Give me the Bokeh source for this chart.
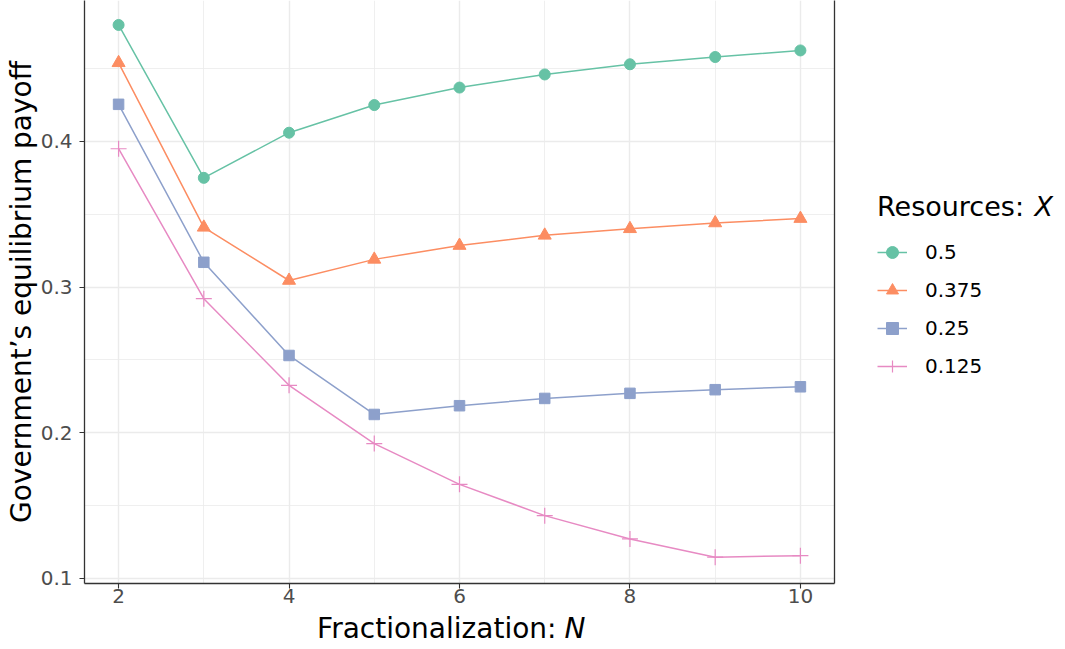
from math import pi
from bokeh.plotting import figure
from bokeh.layouts import row, column
from bokeh.models import (Range1d, FixedTicker, LinearAxis, Legend, LegendItem, Label)
from bokeh.embed import file_html
from bokeh.resources import INLINE

# ---- data ----
N = [2, 3, 4, 5, 6, 7, 8, 9, 10]
series_names = ["0.5", "0.375", "0.25", "0.125"]
pay_05 = [0.480, 0.375, 0.406, 0.425, 0.437, 0.446, 0.453, 0.458, 0.4625]
pay_0375 = [0.454, 0.341, 0.3045, 0.319, 0.3285, 0.3355, 0.340, 0.344, 0.347]
pay_025 = [0.4255, 0.317, 0.253, 0.2125, 0.2185, 0.2235, 0.227, 0.2295, 0.2315]
pay_0125 = [0.395, 0.292, 0.2325, 0.1925, 0.1645, 0.143, 0.127, 0.1145, 0.1155]
x_ticks = [2, 4, 6, 8, 10]
x_minor = [3, 5, 7, 9]
y_ticks = [0.1, 0.2, 0.3, 0.4]
y_minor = [0.15, 0.25, 0.35, 0.45]

colors = ["#66C2A5", "#FC8D62", "#8DA0CB", "#E78AC3"]
markers = ["circle", "triangle", "square", "cross"]
sizes = [11, 13, 10.5, 16]
FONT = "DejaVu Sans"
AXIS_TITLE_SIZE = "28px"
LEGEND_TITLE_SIZE = "27px"
TEXT_SIZE = "20px"


def style_scatter(fig, xs, ys, c, m, s):
    if m == "cross":
        return fig.scatter(xs, ys, marker=m, size=s, line_color=c, line_width=1.2)
    return fig.scatter(xs, ys, marker=m, size=s, fill_color=c, line_color=c)


all_series = [pay_05, pay_0375, pay_025, pay_0125]

# ---- main panel ----
p = figure(width=845, height=612, output_backend="svg", toolbar_location=None,
           x_range=Range1d(1.6, 10.4), y_range=Range1d(0.0964, 0.4968),
           min_border_left=84, min_border_right=11, min_border_bottom=29,
           min_border_top=0, outline_line_color=None)
p.background_fill_color = "white"
p.border_fill_color = "white"

xt = FixedTicker(ticks=x_ticks, minor_ticks=x_minor)
yt = FixedTicker(ticks=y_ticks, minor_ticks=y_minor)
p.xaxis.ticker = xt
p.yaxis.ticker = yt
p.xgrid.ticker = xt
p.ygrid.ticker = yt
for g in (p.xgrid, p.ygrid):
    g.grid_line_color = "#EBEBEB"
    g.grid_line_width = 1.4
    g.minor_grid_line_color = "#EBEBEB"
    g.minor_grid_line_width = 0.8

for ax in (p.xaxis, p.yaxis):
    ax.axis_line_color = "#333333"
    ax.axis_line_width = 1.3
    ax.major_tick_line_color = "#333333"
    ax.major_tick_line_width = 1.1
    ax.major_tick_out = 5
    ax.major_tick_in = 0
    ax.minor_tick_line_color = None
    ax.minor_tick_out = 0
    ax.major_label_text_font = FONT
    ax.major_label_text_font_size = TEXT_SIZE
    ax.major_label_text_color = "#4D4D4D"
    ax.axis_label_text_font = FONT
    ax.axis_label_text_font_size = AXIS_TITLE_SIZE
    ax.axis_label_text_font_style = "normal"
    ax.axis_label_text_color = "black"
p.yaxis.major_label_standoff = 7
p.xaxis.major_label_standoff = 0
p.yaxis.axis_label = "Government\u2019s equilibrium payoff"
p.yaxis.axis_label_standoff = 0

right = LinearAxis(ticker=FixedTicker(ticks=[]), axis_line_color="#333333",
                   axis_line_width=1.3, major_tick_line_color=None, major_tick_out=0,
                   minor_tick_line_color=None, minor_tick_out=0, major_label_text_color=None)
p.add_layout(right, "right")

for ys, c, m, s in zip(all_series, colors, markers, sizes):
    p.line(N, ys, line_color=c, line_width=1.5)
    style_scatter(p, N, ys, c, m, s)

# ---- x-axis title strip (its frame lines up with the main frame) ----
pt = figure(width=845, height=37, output_backend="svg", toolbar_location=None,
            x_axis_type=None, y_axis_type=None, min_border=0,
            outline_line_color=None, x_range=Range1d(0, 1), y_range=Range1d(0, 1))
pt.grid.visible = False
pt.add_layout(Label(x=472, y=21, x_units="screen", y_units="screen",
                    text="Fractionalization:", text_font=FONT,
                    text_font_size=AXIS_TITLE_SIZE,
                    text_align="right", text_baseline="alphabetic", text_color="black"))
pt.add_layout(Label(x=480, y=21, x_units="screen", y_units="screen",
                    text="N", text_font=FONT, text_font_size=AXIS_TITLE_SIZE,
                    text_font_style="italic",
                    text_align="left", text_baseline="alphabetic", text_color="black"))

# ---- legend strip ----
pl = figure(width=220, height=649, output_backend="svg", toolbar_location=None,
            x_axis_type=None, y_axis_type=None, min_border=0,
            outline_line_color=None, x_range=Range1d(0, 1), y_range=Range1d(0, 1))
pl.grid.visible = False
items = []
for name, ys, c, m, s in zip(series_names, all_series, colors, markers, sizes):
    # same series, outside this strip's visible range: only their legend keys show
    lr = pl.line(N, ys, line_color=c, line_width=1.5)
    sr = style_scatter(pl, N, ys, c, m, s)
    items.append(LegendItem(label=name, renderers=[lr, sr]))

legend = Legend(items=items, location=(32, 268), title="Resources:",
                title_text_font=FONT, title_text_font_size=LEGEND_TITLE_SIZE,
                title_text_font_style="normal", title_text_color="black",
                title_standoff=15,
                label_text_font=FONT, label_text_font_size=TEXT_SIZE,
                label_text_color="black",
                label_standoff=18, glyph_width=30, glyph_height=30,
                label_height=30, spacing=8, padding=0, margin=0,
                border_line_color=None, background_fill_alpha=0)
pl.add_layout(legend, "center")
pl.add_layout(Label(x=189, y=443, x_units="screen", y_units="screen", text="X",
                    text_font=FONT, text_font_size=LEGEND_TITLE_SIZE,
                    text_font_style="italic",
                    text_align="left", text_baseline="alphabetic", text_color="black"))

layout = row(column(p, pt), pl)
open("out.html", "w").write(file_html(layout, INLINE))
